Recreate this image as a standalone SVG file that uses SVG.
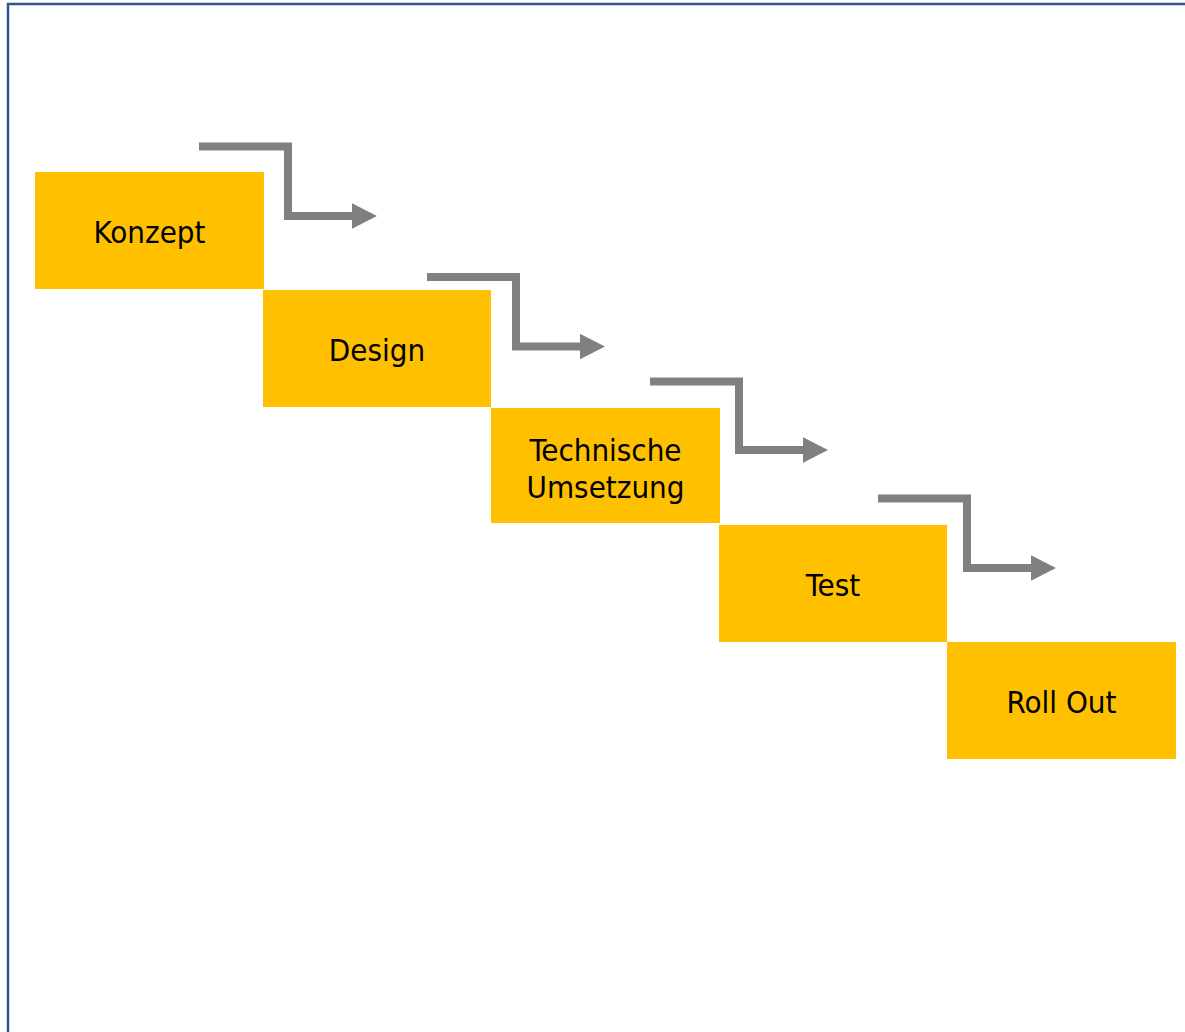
<svg xmlns="http://www.w3.org/2000/svg" width="1185" height="1032" viewBox="0 0 1185 1032">
<defs>
<style>
.box{fill:#FFC000;}
.lbl{font-family:"DejaVu Sans","Liberation Sans",sans-serif;font-stretch:condensed;font-size:31px;fill:#000;text-anchor:middle;}
.conn{fill:none;stroke:#808080;stroke-width:8;stroke-linejoin:miter;}
</style>
<marker id="ah" markerUnits="userSpaceOnUse" markerWidth="26" markerHeight="26" refX="0" refY="12.7" orient="auto">
<path d="M0,0 L25,12.7 L0,25.4 Z" fill="#808080"/>
</marker>
</defs>
<rect width="1185" height="1032" fill="#fff"/>
<rect x="8" y="4" width="1200" height="1100" fill="none" stroke="#2F5597" stroke-width="2.5"/>
<g id="connectors">
<path class="conn" d="M199,146.5 H288 V216 H352" marker-end="url(#ah)"/>
<path class="conn" d="M427,277 H516 V346.5 H580" marker-end="url(#ah)"/>
<path class="conn" d="M650,381.5 H739 V450 H803" marker-end="url(#ah)"/>
<path class="conn" d="M878,498.5 H967 V568 H1031" marker-end="url(#ah)"/>
</g>
<g id="konzept">
<rect class="box" x="35" y="172" width="229" height="117"/>
<text class="lbl" x="149.5" y="242.5">Konzept</text>
</g>
<g id="design">
<rect class="box" x="263" y="290" width="228" height="117"/>
<text class="lbl" x="377" y="360.5">Design</text>
</g>
<g id="technische-umsetzung">
<rect class="box" x="491" y="408" width="229" height="115"/>
<text class="lbl" x="605.5" y="460.5">Technische</text>
<text class="lbl" x="605.5" y="497.5">Umsetzung</text>
</g>
<g id="test">
<rect class="box" x="719" y="525" width="228" height="117"/>
<text class="lbl" x="833" y="595.5">Test</text>
</g>
<g id="roll-out">
<rect class="box" x="947" y="642" width="229" height="117"/>
<text class="lbl" x="1061.5" y="712.5">Roll Out</text>
</g>
</svg>
